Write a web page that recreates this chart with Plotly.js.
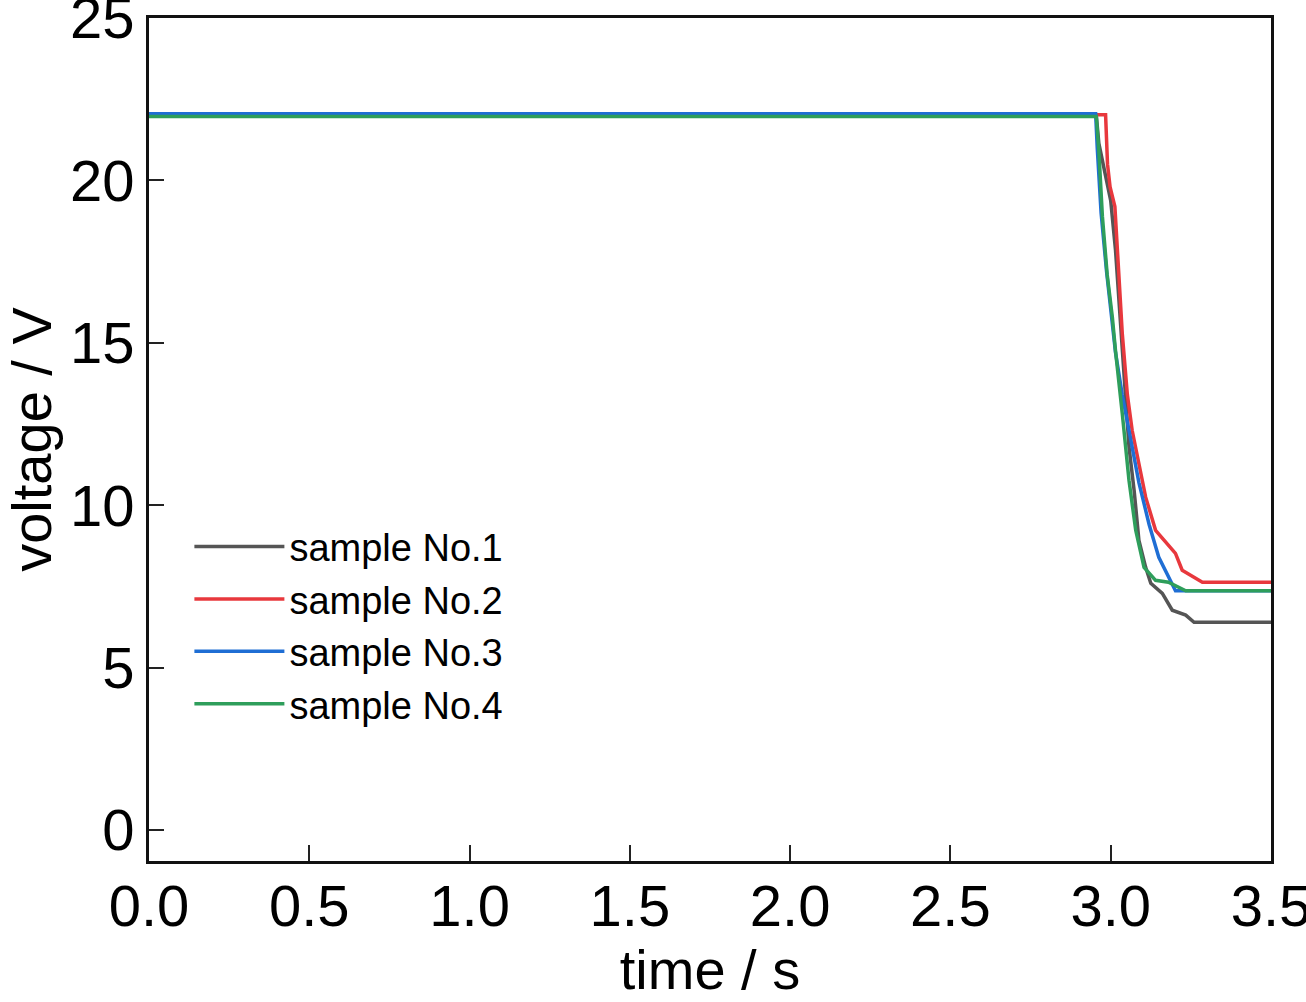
<!DOCTYPE html>
<html>
<head>
<meta charset="utf-8">
<script src="https://cdn.plot.ly/plotly-3.0.1.min.js"></script>
<style>
  html, body { margin: 0; padding: 0; background: #fff; }
  #chart { width: 1306px; height: 1002px; }
</style>
</head>
<body>
<div id="chart"></div>
<script>
// values (time in s, voltage in V)
const names = ["sample No.1", "sample No.2", "sample No.3", "sample No.4"];
const colors = ["#555555", "#e8383d", "#1f6ed4", "#2e9e5b"];

const t1 = [0, 2.955, 2.963, 3.0, 3.015, 3.026, 3.031, 3.042, 3.057, 3.073, 3.088, 3.109, 3.125, 3.161, 3.192, 3.234, 3.26, 3.5];
const v1 = [22.0, 22.0, 21.14, 19.38, 17.85, 16.3, 15.3, 13.85, 11.8, 10.46, 8.92, 8.09, 7.6, 7.29, 6.77, 6.62, 6.4, 6.4];

const t2 = [0, 2.984, 2.99, 2.998, 3.013, 3.024, 3.036, 3.052, 3.067, 3.109, 3.14, 3.202, 3.223, 3.286, 3.5];
const v2 = [22.02, 22.02, 20.5, 19.8, 19.2, 17.3, 15.3, 13.4, 12.3, 10.25, 9.23, 8.52, 8.0, 7.63, 7.63];

const t3 = [0, 2.953, 2.958, 2.97, 2.987, 3.003, 3.015, 3.036, 3.057, 3.088, 3.12, 3.15, 3.202, 3.5];
const v3 = [22.05, 22.05, 21.0, 19.0, 17.2, 15.8, 14.7, 13.4, 12.3, 10.7, 9.4, 8.4, 7.37, 7.37];

const t4 = [0, 2.955, 2.963, 2.974, 2.989, 3.005, 3.015, 3.031, 3.036, 3.057, 3.078, 3.104, 3.14, 3.18, 3.234, 3.5];
const v4 = [21.97, 21.97, 20.9, 18.9, 17.1, 15.8, 14.75, 13.4, 12.83, 10.77, 9.23, 8.09, 7.69, 7.63, 7.37, 7.37];

const xTicks = [0, 0.5, 1.0, 1.5, 2.0, 2.5, 3.0, 3.5];
const yTicks = [0, 5, 10, 15, 20, 25];

const times = [t1, t2, t3, t4];
const volts = [v1, v2, v3, v4];

const font = '"Liberation Sans", Arial, sans-serif';

var data = names.map((name, i) => ({
  x: times[i],
  y: volts[i],
  name,
  type: "scatter",
  mode: "lines",
  line: { color: colors[i], width: 3.5 }
}));

var layout = {
  autosize: false,
  width: 1306,
  height: 1002,
  margin: { l: 149, r: 35, t: 18, b: 141 },
  paper_bgcolor: "#fff",
  plot_bgcolor: "#fff",
  showlegend: true,
  legend: {
    x: 0.036, xanchor: "left",
    y: 0.41, yanchor: "top",
    bgcolor: "rgba(0,0,0,0)",
    font: { family: font, size: 38, color: "#000" },
    itemwidth: 90,
    tracegroupgap: 0
  },
  xaxis: {
    range: [0, 3.5],
    tickmode: "array",
    tickvals: xTicks,
    ticktext: xTicks.map(v => v.toFixed(1)),
    ticks: "inside",
    ticklen: 16,
    tickwidth: 2,
    tickcolor: "#222",
    ticklabeloverflow: "allow",
    ticklabelstandoff: -8,
    showline: true,
    linecolor: "#111",
    linewidth: 3,
    mirror: true,
    showgrid: false,
    zeroline: false,
    tickfont: { family: font, size: 58, color: "#000" },
    title: { text: "time / s", font: { family: font, size: 56, color: "#000" }, standoff: 8 }
  },
  yaxis: {
    range: [-0.95, 25],
    tickmode: "array",
    tickvals: yTicks,
    ticks: "inside",
    ticklen: 15,
    tickwidth: 2,
    tickcolor: "#222",
    ticklabeloverflow: "allow",
    showline: true,
    linecolor: "#111",
    linewidth: 3,
    mirror: true,
    showgrid: false,
    zeroline: false,
    tickfont: { family: font, size: 58, color: "#000" },
    title: { text: "voltage / V", font: { family: font, size: 56, color: "#000" }, standoff: 8 }
  }
};

Plotly.newPlot("chart", data, layout, { displayModeBar: false, staticPlot: true });
</script>
</body>
</html>
